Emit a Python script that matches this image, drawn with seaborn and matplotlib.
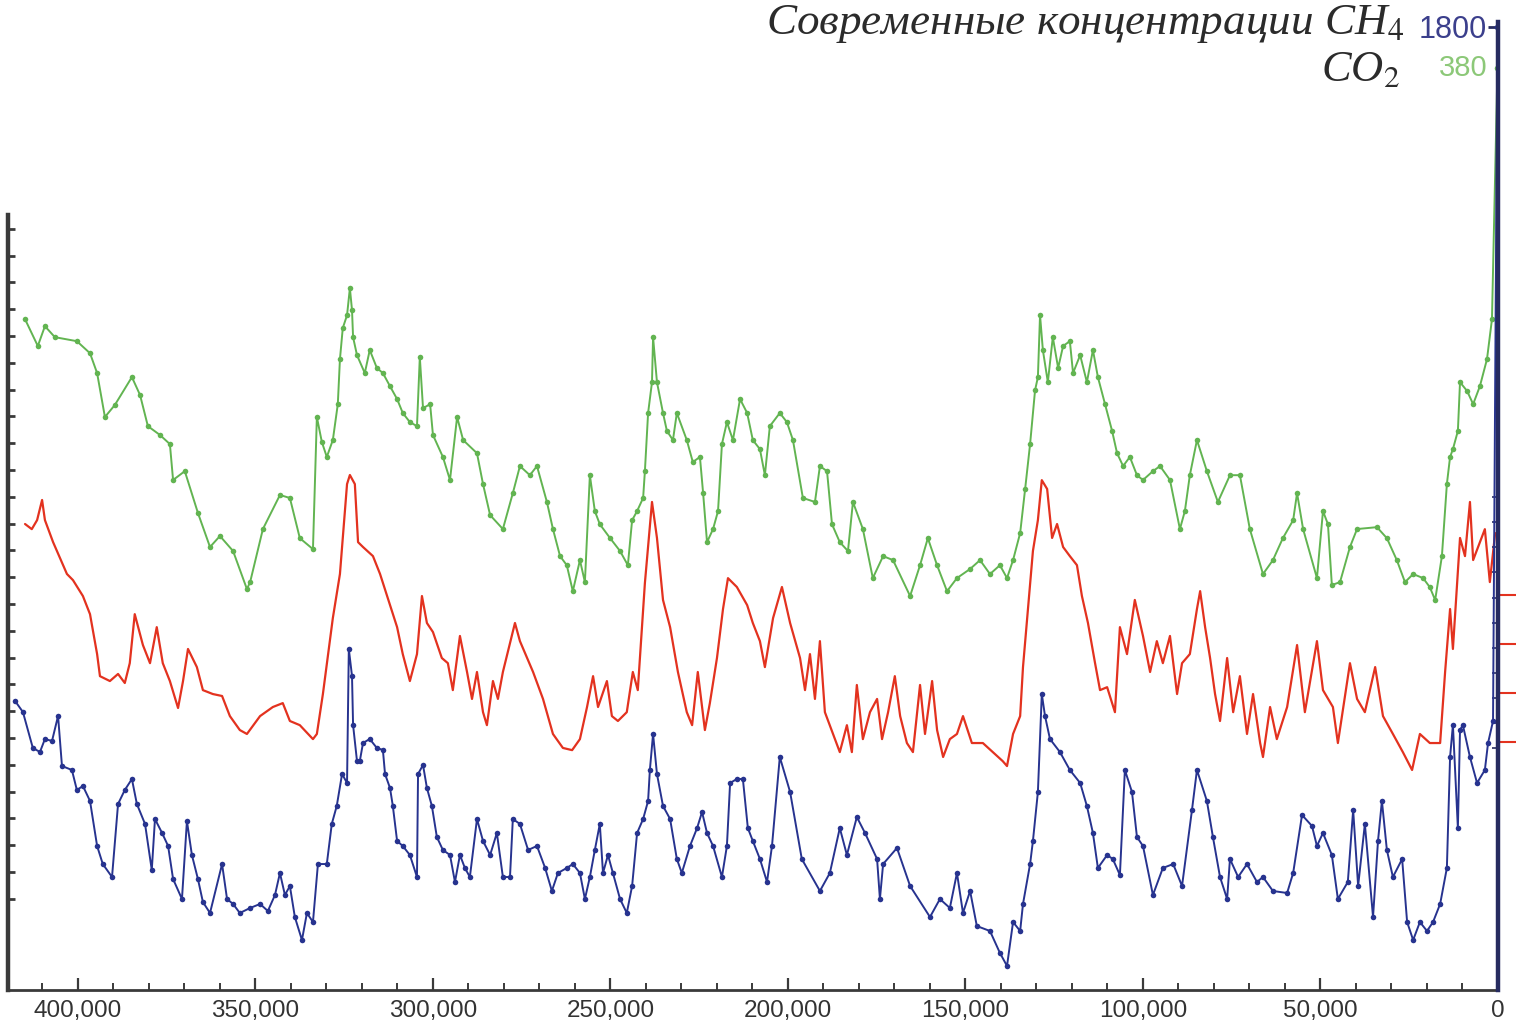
import numpy as np
import pandas as pd
import matplotlib
matplotlib.use("Agg")
import matplotlib.pyplot as plt
import seaborn as sns
from matplotlib.ticker import FuncFormatter, MultipleLocator, FixedLocator

# ---------------- data (ages in thousands of years before present) ----------------
co2_ka = [414.9, 411.3, 409.3, 406.5, 400.3, 396.6, 394.6, 392.4, 389.6, 384.8,
          382.5, 380.3, 376.9, 374.1, 373.2, 369.9, 366.2, 362.8, 360.0, 356.3,
          352.4, 351.5, 347.9, 343.1, 340.3, 337.5, 333.8, 332.7, 331.3, 329.9,
          328.2, 326.8, 326.2, 325.4, 324.2, 323.4, 322.8, 322.5, 321.4, 319.2,
          317.8, 315.8, 314.1, 312.1, 310.1, 308.5, 306.5, 304.5, 303.7, 302.8,
          300.8, 300.0, 297.2, 295.2, 293.2, 291.5, 287.6, 285.9, 283.9, 280.3,
          277.5, 275.5, 272.7, 270.7, 267.9, 266.2, 264.2, 262.3, 260.6, 258.6,
          257.2, 255.8, 254.4, 253.0, 250.1, 247.3, 245.1, 243.9, 242.5, 240.8,
          240.3, 239.4, 238.3, 238.0, 236.9, 235.2, 234.1, 232.4, 231.3, 228.5,
          226.8, 224.8, 223.9, 222.8, 221.1, 219.7, 218.6, 217.2, 215.5, 213.5,
          211.5, 209.9, 207.9, 206.5, 205.1, 202.3, 200.3, 198.6, 195.8, 192.4,
          191.0, 189.0, 187.6, 185.4, 183.1, 181.7, 178.9, 176.1, 173.2, 170.4,
          165.6, 162.8, 160.6, 158.0, 155.2, 152.4, 148.7, 145.9, 143.1, 140.3,
          138.3, 136.6, 134.6, 133.2, 131.8, 130.4, 129.6, 129.0, 128.2, 126.8,
          125.4, 123.9, 122.5, 120.6, 119.7, 117.7, 115.8, 114.1, 112.7, 110.7,
          108.7, 107.3, 105.6, 103.7, 101.7, 100.0, 97.2, 95.2, 92.4, 89.6,
          88.2, 86.8, 84.8, 82.0, 78.9, 75.5, 72.7, 69.9, 66.2, 63.4,
          60.6, 57.7, 56.6, 54.9, 51.0, 49.3, 47.9, 46.8, 44.5, 41.7,
          39.7, 34.1, 31.3, 28.5, 26.2, 23.9, 21.1, 19.2, 17.7, 15.8,
          14.4, 13.5, 12.7, 11.3, 10.7, 8.7, 7.0, 5.1, 3.1, 1.7,
          0.15]
co2_ppm = [286.3, 276.3, 283.7, 279.6, 278.1, 273.6, 266.2, 249.8, 254.3, 264.7,
           258.0, 246.4, 243.1, 239.7, 226.3, 229.6, 214.0, 201.3, 205.4, 199.8,
           185.6, 188.2, 208.0, 220.7, 219.6, 204.6, 200.5, 249.8, 240.5, 234.9,
           241.2, 254.6, 271.4, 283.0, 287.8, 297.9, 289.7, 279.6, 272.9, 266.2,
           274.8, 268.1, 266.2, 261.3, 256.5, 251.3, 247.9, 246.4, 272.2, 253.1,
           254.6, 243.1, 234.9, 226.3, 249.8, 241.2, 236.3, 224.8, 213.2, 208.0,
           221.4, 231.5, 228.1, 231.5, 218.1, 208.0, 197.9, 194.5, 184.8, 196.4,
           188.2, 228.1, 214.7, 209.8, 204.6, 199.8, 194.5, 211.3, 214.7, 219.6,
           229.6, 251.3, 262.8, 279.6, 262.8, 251.3, 244.6, 241.2, 251.3, 241.2,
           233.0, 234.9, 221.4, 203.1, 208.0, 214.7, 239.7, 247.9, 241.2, 256.5,
           251.3, 241.2, 237.8, 228.1, 246.4, 251.3, 247.9, 241.2, 219.6, 218.1,
           231.5, 229.6, 209.8, 203.1, 199.8, 218.1, 208.0, 189.7, 197.9, 196.4,
           183.0, 194.5, 204.6, 194.5, 184.8, 189.7, 193.1, 196.4, 191.2, 194.5,
           189.7, 196.4, 206.5, 222.9, 239.7, 259.8, 264.7, 287.8, 274.8, 262.8,
           279.6, 268.1, 276.3, 278.1, 266.2, 272.9, 262.8, 274.8, 264.7, 254.6,
           244.6, 236.3, 231.5, 234.9, 228.1, 226.3, 229.6, 231.5, 226.3, 208.0,
           214.7, 228.1, 241.2, 229.6, 218.1, 228.1, 228.1, 208.0, 191.2, 196.4,
           204.6, 211.3, 221.4, 208.0, 189.7, 214.7, 209.8, 187.1, 188.2, 201.3,
           208.0, 208.7, 204.6, 196.4, 188.2, 191.2, 189.7, 186.3, 181.5, 197.9,
           224.8, 234.9, 237.8, 244.6, 262.8, 259.5, 254.6, 261.3, 271.4, 286.3,
           380.0]

temp_ka = [414.9, 413.0, 411.5, 410.1, 409.3, 407.0, 403.1, 401.4, 398.6, 396.6,
           394.6, 393.8, 391.0, 388.7, 386.8, 385.4, 384.0, 381.7, 379.7, 377.8,
           376.1, 374.1, 371.8, 370.4, 369.0, 366.5, 364.8, 362.0, 359.4, 357.2,
           354.4, 352.4, 348.7, 345.1, 342.3, 340.3, 337.5, 333.8, 332.7, 331.0,
           328.2, 326.2, 324.2, 323.4, 322.0, 321.1, 319.7, 316.9, 314.9, 312.1,
           310.1, 308.5, 306.5, 304.5, 303.1, 301.7, 300.0, 297.5, 295.8, 294.4,
           292.4, 290.4, 289.0, 287.6, 285.9, 284.8, 283.1, 281.7, 280.3, 276.9,
           275.5, 271.8, 269.0, 266.2, 263.4, 260.8, 258.6, 256.6, 254.9, 253.5,
           251.0, 249.6, 247.9, 245.4, 243.7, 242.3, 240.3, 238.3, 236.9, 235.2,
           233.2, 231.0, 228.5, 227.0, 225.4, 223.4, 222.0, 220.0, 218.3, 216.9,
           214.4, 211.5, 209.9, 207.9, 206.5, 204.2, 201.7, 199.4, 196.6, 195.2,
           193.8, 192.4, 191.0, 189.6, 187.3, 185.4, 183.4, 182.0, 180.6, 178.9,
           176.9, 174.9, 173.5, 171.8, 169.9, 168.4, 166.5, 164.8, 162.8, 161.4,
           159.4, 158.0, 156.3, 154.4, 152.4, 150.7, 148.2, 145.1, 142.3, 139.5,
           138.3, 136.6, 134.6, 133.8, 132.4, 131.0, 129.6, 128.5, 127.0, 125.6,
           124.2, 122.5, 120.6, 118.6, 117.2, 115.5, 113.5, 112.1, 110.1, 107.9,
           106.5, 104.5, 102.3, 100.0, 98.0, 96.1, 94.4, 92.4, 90.4, 89.0,
           86.8, 84.8, 83.9, 82.5, 81.1, 79.7, 78.3, 76.3, 74.6, 72.7,
           70.7, 69.0, 67.0, 66.2, 64.2, 62.3, 59.4, 56.6, 54.4, 51.0,
           49.3, 46.5, 45.1, 41.7, 39.7, 37.5, 34.6, 32.4, 29.6, 26.8,
           24.2, 22.0, 19.2, 16.3, 14.9, 13.5, 12.7, 11.5, 10.7, 9.3,
           7.9, 7.0, 5.1, 3.7, 2.3, 0.8]
temp_c = [0.90, 0.69, 1.06, 1.88, 1.06, 0.16, -1.14, -1.39, -2.04, -2.78,
          -4.41, -5.31, -5.51, -5.22, -5.59, -4.78, -2.78, -4.04, -4.78, -3.31,
          -4.78, -5.51, -6.61, -5.51, -4.20, -4.94, -5.88, -6.04, -6.12, -6.94,
          -7.51, -7.67, -6.94, -6.57, -6.41, -7.14, -7.31, -7.88, -7.67, -6.04,
          -2.94, -1.14, 2.53, 2.90, 2.53, 0.16, -0.04, -0.41, -1.14, -2.41,
          -3.31, -4.41, -5.51, -4.41, -2.04, -3.14, -3.51, -4.57, -4.78, -5.88,
          -3.67, -5.14, -6.24, -5.14, -6.78, -7.31, -5.51, -6.24, -5.14, -3.14,
          -3.88, -5.14, -6.24, -7.67, -8.24, -8.33, -7.88, -6.57, -5.31, -6.57,
          -5.51, -6.94, -7.14, -6.78, -5.14, -5.88, -1.51, 1.80, 0.33, -2.20,
          -3.31, -5.14, -6.78, -7.31, -5.14, -7.51, -6.41, -4.57, -2.57, -1.31,
          -1.67, -2.41, -3.14, -3.88, -4.94, -2.94, -1.67, -3.14, -4.57, -5.88,
          -4.41, -6.24, -3.88, -6.78, -7.67, -8.41, -7.31, -8.41, -5.67, -7.88,
          -6.78, -6.24, -7.88, -6.78, -5.31, -6.94, -8.04, -8.41, -5.67, -7.67,
          -5.51, -7.51, -8.61, -7.88, -7.67, -6.94, -8.04, -8.04, -8.41, -8.78,
          -8.98, -7.67, -6.94, -4.94, -2.57, -0.20, 1.06, 2.69, 2.33, 0.33,
          0.90, -0.04, -0.41, -0.78, -2.04, -3.14, -4.78, -5.88, -5.76, -6.78,
          -3.31, -4.41, -2.20, -3.67, -5.14, -3.88, -4.78, -3.67, -6.04, -4.78,
          -4.41, -2.57, -1.84, -3.31, -4.57, -6.04, -7.14, -4.57, -6.78, -5.31,
          -7.67, -6.04, -8.04, -8.61, -6.57, -7.88, -6.57, -4.04, -6.78, -3.88,
          -5.88, -6.57, -8.04, -4.78, -6.24, -6.78, -4.94, -6.94, -7.67, -8.41,
          -9.14, -7.67, -8.04, -8.04, -5.14, -2.57, -4.20, -1.47, 0.33, -0.41,
          1.80, -0.57, 0.16, 0.69, -1.47, 0.53]

ch4_ka = [417.7, 415.5, 412.7, 410.7, 409.3, 407.3, 405.6, 404.5, 401.7, 400.3,
          398.6, 396.6, 394.6, 393.0, 390.4, 388.7, 386.8, 384.8, 383.4, 381.1,
          379.2, 378.3, 376.3, 374.6, 373.2, 370.7, 369.3, 367.9, 366.2, 364.8,
          362.8, 359.4, 358.0, 356.3, 354.4, 351.5, 348.7, 346.5, 344.5, 343.1,
          341.7, 340.3, 338.9, 336.9, 335.5, 333.8, 332.4, 329.9, 328.5, 327.1,
          325.6, 324.2, 323.7, 322.8, 322.5, 321.4, 320.6, 319.7, 317.8, 315.8,
          314.1, 313.5, 312.1, 311.3, 310.1, 308.5, 306.5, 304.5, 304.2, 302.8,
          301.7, 300.3, 298.9, 297.2, 295.2, 293.8, 292.4, 291.0, 289.6, 287.6,
          285.9, 283.9, 282.0, 280.3, 278.3, 277.5, 275.5, 273.2, 270.7, 268.4,
          266.5, 264.8, 262.3, 260.6, 258.6, 257.2, 255.8, 254.4, 253.0, 252.1,
          250.7, 249.3, 247.3, 245.4, 243.9, 242.5, 240.8, 239.4, 238.9, 238.0,
          236.9, 235.2, 233.2, 231.3, 229.9, 227.6, 225.6, 224.2, 222.8, 221.1,
          218.6, 217.2, 216.3, 214.4, 212.7, 211.3, 209.9, 207.9, 205.9, 204.5,
          202.3, 199.4, 196.1, 191.0, 188.2, 185.4, 183.4, 180.6, 178.3, 174.9,
          174.1, 173.2, 169.3, 165.6, 160.0, 157.2, 154.4, 152.4, 150.7, 148.7,
          146.8, 143.1, 140.3, 138.3, 136.6, 134.6, 133.8, 131.8, 131.0, 129.6,
          128.5, 127.6, 126.2, 123.4, 120.6, 117.7, 115.8, 114.1, 112.7, 110.1,
          108.5, 106.5, 105.1, 103.1, 101.7, 100.0, 97.2, 94.4, 91.5, 89.0,
          86.2, 84.8, 82.0, 80.3, 78.3, 76.3, 75.5, 73.2, 70.7, 67.9,
          66.2, 63.4, 59.4, 57.7, 55.2, 52.4, 51.0, 49.3, 46.8, 45.1,
          42.3, 40.8, 39.4, 37.5, 35.2, 33.8, 32.7, 31.3, 29.6, 27.0,
          25.6, 23.9, 22.0, 20.0, 18.3, 16.3, 14.4, 13.5, 12.7, 11.3,
          10.7, 9.9, 7.9, 5.9, 3.7, 2.8, 1.4, 0.15]
ch4_ppb = [725.0, 707.5, 650.1, 643.7, 664.4, 661.3, 701.2, 621.4, 615.0, 583.1,
           589.5, 565.6, 493.8, 465.0, 444.3, 560.8, 583.1, 600.6, 560.8, 528.9,
           455.5, 536.8, 514.5, 493.8, 441.1, 409.2, 533.6, 479.4, 441.1, 404.4,
           386.9, 465.0, 409.2, 401.3, 386.9, 394.9, 401.3, 390.1, 415.6, 450.7,
           415.6, 430.0, 380.5, 343.8, 386.9, 372.5, 465.0, 465.0, 528.9, 557.6,
           608.6, 594.3, 808.0, 764.9, 686.8, 629.4, 629.4, 658.1, 664.4, 650.1,
           646.9, 608.6, 586.3, 557.6, 501.8, 493.8, 479.4, 444.3, 608.6, 623.0,
           586.3, 557.6, 508.1, 487.4, 479.4, 436.4, 479.4, 458.7, 444.3, 536.8,
           501.8, 479.4, 514.5, 444.3, 444.3, 536.8, 528.9, 487.4, 493.8, 458.7,
           422.0, 450.7, 458.7, 465.0, 450.7, 409.2, 444.3, 487.4, 528.9, 450.7,
           479.4, 450.7, 409.2, 386.9, 430.0, 514.5, 536.8, 565.6, 615.0, 672.4,
           608.6, 557.6, 536.8, 473.0, 450.7, 493.8, 522.4, 548.0, 514.5, 493.8,
           444.3, 493.8, 594.3, 600.6, 600.6, 522.4, 501.8, 473.0, 436.4, 493.8,
           635.7, 579.9, 473.0, 422.0, 450.7, 522.4, 479.4, 540.0, 514.5, 473.0,
           409.2, 465.0, 490.6, 430.0, 380.5, 409.2, 394.9, 450.7, 386.9, 422.0,
           366.1, 358.2, 323.2, 302.4, 372.5, 358.2, 401.3, 465.0, 501.8, 579.9,
           736.2, 701.2, 664.4, 643.7, 615.0, 594.3, 557.6, 514.5, 458.7, 479.4,
           473.0, 447.5, 615.0, 579.9, 508.1, 493.8, 415.6, 458.7, 465.0, 430.0,
           551.2, 615.0, 565.6, 508.1, 444.3, 409.2, 473.0, 444.3, 465.0, 436.4,
           444.3, 422.0, 418.8, 450.7, 543.2, 525.7, 493.8, 514.5, 479.4, 409.2,
           436.4, 551.2, 430.0, 528.9, 380.5, 501.8, 565.6, 487.4, 444.3, 473.0,
           372.5, 343.8, 372.5, 358.2, 372.5, 401.3, 458.7, 635.7, 686.8, 522.4,
           678.8, 686.8, 635.7, 594.3, 615.0, 658.1, 693.1, 1800.0]

x_major_ticks = [400000, 350000, 300000, 250000, 200000, 150000, 100000, 50000, 0]
temp_ticks = [-8, -6, -4, -2]
modern_ch4_label = "1800"
modern_co2_label = "380"
title_ch4 = "Современные концентрации CH$_{\\mathit{4}}$"
title_co2 = "CO$_{\\mathit{2}}$"

# ---------------- style ----------------
sns.set_style("ticks")
plt.rcParams["font.family"] = ["Liberation Sans", "DejaVu Sans"]
plt.rcParams["mathtext.fontset"] = "stix"

GREEN = "#62b451"
RED = "#e3321f"
BLUE = "#27338f"
AXIS = "#3a3a3a"
NAVY = "#262b60"

co2_df = pd.DataFrame({"years": np.array(co2_ka) * 1000, "ppm": co2_ppm})
temp_df = pd.DataFrame({"years": np.array(temp_ka) * 1000, "dT": temp_c})
ch4_df = pd.DataFrame({"years": np.array(ch4_ka) * 1000, "ppb": ch4_ppb})

W, H = 1517, 1024
fig = plt.figure(figsize=(W / 100, H / 100), dpi=100)
fig.patch.set_facecolor("white")
ax = fig.add_axes([8 / W, 34 / H, 1490 / W, 968 / H])
ax_t = ax.twinx()
ax_m = ax.twinx()

sns.lineplot(data=co2_df, x="years", y="ppm", ax=ax, color=GREEN, linewidth=1.4,
             marker="o", markersize=4, markeredgewidth=0, estimator=None, sort=False)
sns.lineplot(data=temp_df, x="years", y="dT", ax=ax_t, color=RED, linewidth=1.6,
             estimator=None, sort=False)
sns.lineplot(data=ch4_df, x="years", y="ppb", ax=ax_m, color=BLUE, linewidth=1.4,
             marker="o", markersize=4, markeredgewidth=0, estimator=None, sort=False)

ax.set_xlim(419700, 0)
ax.set_ylim(36.0, 397.2)
ax_t.set_ylim(-18.12, 21.39)
ax_m.set_ylim(264.1, 1808.0)

for a in (ax, ax_t, ax_m):
    a.set_xlabel("")
    a.set_ylabel("")

# x axis
ax.xaxis.set_major_locator(FixedLocator(x_major_ticks))
ax.xaxis.set_minor_locator(MultipleLocator(10000))
ax.xaxis.set_major_formatter(FuncFormatter(lambda v, p: f"{int(round(v)):,}"))
ax.tick_params(axis="x", which="major", direction="in", length=9, width=1.6,
               color=AXIS, labelsize=17.5, labelcolor="#333333", pad=7, bottom=True)
ax.tick_params(axis="x", which="minor", direction="in", length=5, width=1.4,
               color=AXIS, bottom=True)

# left axis (unlabelled)
ax.yaxis.set_major_locator(FixedLocator(np.arange(70, 321, 10)))
ax.tick_params(axis="y", which="major", direction="in", length=5, width=2,
               color=AXIS, labelleft=False, left=True)
ax.spines["top"].set_visible(False)
ax.spines["right"].set_visible(False)
ax.spines["left"].set_bounds(36.0, 325.0)
ax.spines["left"].set_linewidth(3.2)
ax.spines["left"].set_color(AXIS)
ax.spines["bottom"].set_linewidth(2)
ax.spines["bottom"].set_color(AXIS)

# temperature ticks on the right (outward, red)
for s in ax_t.spines.values():
    s.set_visible(False)
ax_t.yaxis.set_major_locator(FixedLocator(temp_ticks))
ax_t.tick_params(axis="y", which="major", direction="out", length=13, width=1.5,
                 color=RED, right=True, labelright=False)

# CH4 axis: right spine
for k, s in ax_m.spines.items():
    s.set_visible(k == "right")
ax_m.spines["right"].set_color(NAVY)
ax_m.spines["right"].set_linewidth(3.2)
ax_m.yaxis.set_major_locator(FixedLocator([1800]))
ax_m.yaxis.set_minor_locator(FixedLocator(np.arange(650, 1060, 40)))
ax_m.tick_params(axis="y", which="major", direction="in", length=7, width=2,
                 color=NAVY, right=True, labelright=False)
ax_m.tick_params(axis="y", which="minor", direction="in", length=4, width=1.2,
                 color=NAVY, right=True)

# texts
serif = ["Liberation Serif", "DejaVu Serif"]
fig.text(1404 / W, 1 - 24 / H, title_ch4, ha="right", va="center", fontsize=32.5,
         style="italic", family=serif, color="#2b2b2b")
fig.text(1400 / W, 1 - 70 / H, title_co2, ha="right", va="center", fontsize=32,
         style="italic", family=serif, color="#2b2b2b")
fig.text(1487 / W, 1 - 30 / H, modern_ch4_label, ha="right", va="center",
         fontsize=22, color="#3b3f8c")
fig.text(1487 / W, 1 - 68 / H, modern_co2_label, ha="right", va="center",
         fontsize=21, color="#8cc878")

fig.savefig("out.png", dpi=100, facecolor="white")
